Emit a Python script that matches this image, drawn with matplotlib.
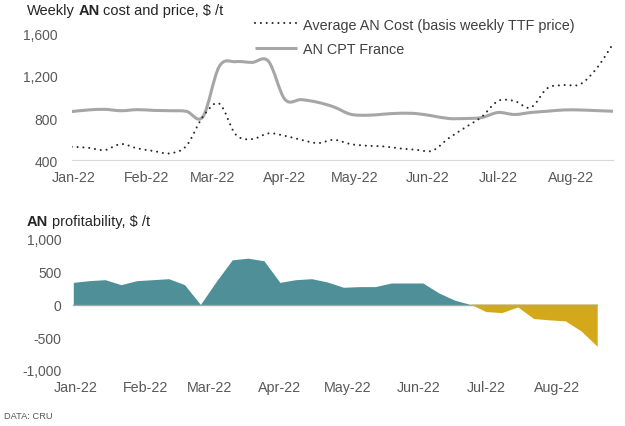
import numpy as np
import pandas as pd
import matplotlib
matplotlib.use("Agg")
import matplotlib.pyplot as plt
import matplotlib.dates as mdates
from matplotlib.path import Path
from matplotlib.patches import PathPatch
from matplotlib.lines import Line2D

plt.rcParams['font.family'] = ['Liberation Sans', 'DejaVu Sans']

# ---------------- data ----------------
weeks = pd.date_range('2021-12-31', periods=34, freq='7D')

an_cost = [528, 519, 497, 554, 513, 488, 466, 538, 813, 937, 645, 601,
           655, 632, 594, 563, 594, 554, 538, 532, 513, 500, 491, 610,
           711, 811, 962, 962, 900, 1082, 1113, 1120, 1268, 1500]
an_price = [862, 877, 883, 870, 880, 873, 870, 864, 813, 1290, 1335, 1328,
            1339, 978, 975, 950, 905, 837, 827, 837, 846, 843, 821, 796,
            796, 805, 853, 834, 853, 865, 877, 877, 871, 865]
an_profit = [338, 364, 379, 303, 364, 379, 394, 303, 0, 354, 682, 707,
             667, 338, 379, 394, 343, 263, 273, 273, 328, 328, 328, 177,
             66, 0, -116, -131, -45, -222, -242, -258, -414, -646]

top_yticks = [400, 800, 1200, 1600]
bot_yticks = [-1000, -500, 0, 500, 1000]
cost_label = 'Average AN Cost (basis weekly TTF price)'
price_label = 'AN CPT France'

# ---------------- style ----------------
W, H = 625, 427
TICK_C = '#595959'
TEXT_C = '#262626'
GRAY = '#A6A6A6'
DOT_C = '#262626'
TEAL = '#4F8F97'
GOLD = '#D4A81A'

fig = plt.figure(figsize=(W / 100, H / 100), dpi=100)


def fx(px):
    return px / W


def fy(py):
    return 1 - py / H


def smooth_path(x, y):
    pts = np.column_stack([x, y]).astype(float)
    n = len(pts)
    verts = [pts[0]]
    codes = [Path.MOVETO]
    for i in range(n - 1):
        p0 = pts[i - 1] if i > 0 else pts[i]
        p1 = pts[i]
        p2 = pts[i + 1]
        p3 = pts[i + 2] if i + 2 < n else pts[i + 1]
        c1 = p1 + (p2 - p0) / 6.0
        c2 = p2 - (p3 - p1) / 6.0
        verts += [c1, c2, p2]
        codes += [Path.CURVE4] * 3
    return Path(verts, codes)


xnum = mdates.date2num(weeks.to_pydatetime())
x0, x1 = xnum[0], xnum[-1]

# ---------------- top chart ----------------
ax1 = fig.add_axes([fx(71.7), fy(161.3), fx(613 - 71.7), (161.3 - 34.7) / H])
ax1.add_patch(PathPatch(smooth_path(xnum, an_price), fill=False,
                        edgecolor=GRAY, lw=2.2, capstyle='round',
                        joinstyle='round', zorder=2))
ax1.add_patch(PathPatch(smooth_path(xnum, an_cost), fill=False,
                        edgecolor=DOT_C, lw=1.5, linestyle=(0, (0.01, 2.8)),
                        capstyle='round', zorder=3))
ax1.set_xlim(x0, x1 + 0.1)
ax1.set_ylim(400, 1600)
ax1.set_yticks(top_yticks)
ax1.set_yticklabels([f'{v:,}' for v in top_yticks])

# ---------------- bottom chart ----------------
ax2 = fig.add_axes([fx(73.3), fy(371), fx(597.7 - 73.3), (371 - 240) / H])
prof = np.array(an_profit, dtype=float)
ax2.fill_between(xnum, prof, 0, where=prof >= 0, interpolate=True,
                 color=TEAL, lw=0, zorder=2)
ax2.fill_between(xnum, prof, 0, where=prof <= 0, interpolate=True,
                 color=GOLD, lw=0, zorder=2)
ax2.axhline(0, color=GRAY, lw=1.0, zorder=3)
ax2.set_xlim(x0, x1)
ax2.set_ylim(-1000, 1000)
ax2.set_yticks(bot_yticks)
ax2.set_yticklabels([f'{v:,}' for v in bot_yticks])

for ax, ypad in ((ax1, 10.0), (ax2, 8.6)):
    ax.xaxis.set_major_locator(mdates.MonthLocator())
    ax.xaxis.set_major_formatter(mdates.DateFormatter('%b-%y'))
    ax.tick_params(axis='x', length=0, pad=7.3, labelsize=10.3, labelcolor=TICK_C)
    ax.tick_params(axis='y', length=0, pad=ypad, labelsize=10, labelcolor=TICK_C)
    for s in ('top', 'right', 'left'):
        ax.spines[s].set_visible(False)
    ax.patch.set_alpha(0)

ax1.spines['bottom'].set_color('#D9D9D9')
ax1.spines['bottom'].set_linewidth(0.8)
ax2.spines['bottom'].set_visible(False)

# ---------------- titles ----------------
renderer = fig.canvas.get_renderer()


def rich_text(px, py, parts, size, color):
    x = px
    a = fig.text(0, 0, 'a a', fontsize=size)
    b = fig.text(0, 0, 'aa', fontsize=size)
    sp_w = (a.get_window_extent(renderer).width -
            b.get_window_extent(renderer).width)
    a.remove()
    b.remove()
    for s, weight in parts:
        lead = len(s) - len(s.lstrip(' '))
        core = s.strip(' ')
        trail = len(s) - len(s.rstrip(' '))
        x += lead * sp_w
        t = fig.text(fx(x), fy(py), core, fontsize=size, fontweight=weight,
                     color=color, va='baseline', ha='left')
        x += t.get_window_extent(renderer).width + trail * sp_w - 0.5


rich_text(27, 14.7, [('Weekly ', 'normal'), ('AN', 'bold'),
                     (' cost and price, $ /t', 'normal')], 10.5, TEXT_C)
rich_text(27, 226.5, [('AN', 'bold'), (' profitability, $ /t', 'normal')],
          10.5, TEXT_C)
fig.text(fx(4), fy(419.5), 'DATA: CRU', fontsize=6.7, color=TICK_C,
         va='baseline', ha='left')

# ---------------- legend ----------------
handles = [Line2D([], [], color=DOT_C, lw=1.5, linestyle=(0, (0.01, 2.8)),
                  dash_capstyle='round'),
           Line2D([], [], color=GRAY, lw=2.2, solid_capstyle='butt')]
fig.legend(handles, [cost_label, price_label], loc='upper left',
           bbox_to_anchor=(fx(255), fy(18.5)), frameon=False,
           fontsize=10.4, labelcolor='#404040', borderpad=0,
           borderaxespad=0, handlelength=2.9, handletextpad=0.4,
           labelspacing=0.7)

fig.savefig('out.png', dpi=100)
